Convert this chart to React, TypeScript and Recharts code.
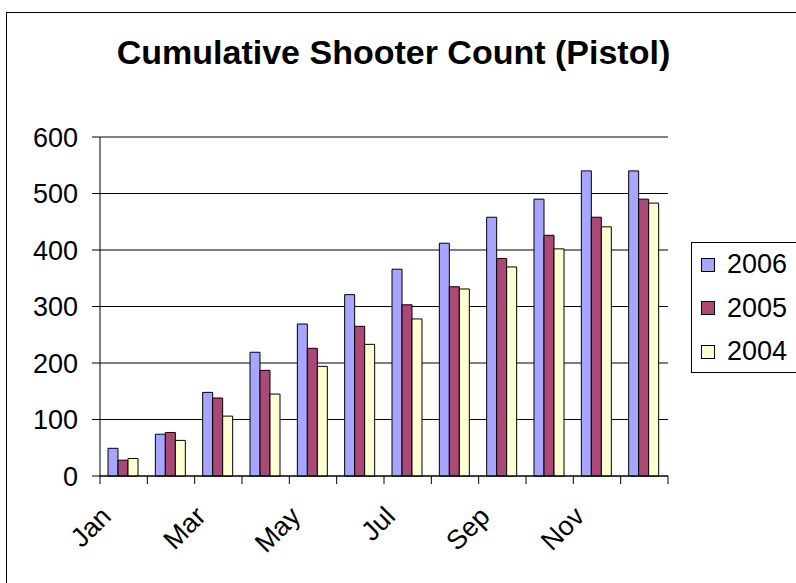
import { BarChart, Bar, XAxis, YAxis, CartesianGrid, Legend, ReferenceLine } from 'recharts';

const months = ['Jan', 'Feb', 'Mar', 'Apr', 'May', 'Jun', 'Jul', 'Aug', 'Sep', 'Oct', 'Nov', 'Dec'];
const seriesNames = ['2006', '2005', '2004'];
const count2006 = [49, 74, 148, 219, 269, 321, 366, 412, 458, 490, 540, 540];
const count2005 = [28, 77, 138, 187, 226, 265, 303, 335, 385, 426, 458, 490];
const count2004 = [31, 63, 106, 145, 194, 233, 278, 331, 370, 402, 441, 483];
const yTicks = [0, 100, 200, 300, 400, 500, 600];

const data = months.map((month, i) => ({
  month,
  '2006': count2006[i],
  '2005': count2005[i],
  '2004': count2004[i],
}));

const FONT = '"Liberation Sans", Arial, sans-serif';
const colors: Record<string, string> = { '2006': '#A6A6FF', '2005': '#AA4876', '2004': '#FFFFD2' };

// month tick: label on every other month, tick marks on the category boundaries
const MonthTick = (props: any) => {
  const { x, y, payload, index, width, visibleTicksCount } = props;
  const band = width / visibleTicksCount;
  const ax = x - 11;
  const ay = y + 42;
  return (
    <g>
      <line x1={x - band / 2} x2={x - band / 2} y1={y} y2={y + 8} stroke="#000" />
      {index === visibleTicksCount - 1 && (
        <line x1={x + band / 2} x2={x + band / 2} y1={y} y2={y + 8} stroke="#000" />
      )}
      {index % 2 === 0 && (
        <text
          x={ax}
          y={ay}
          transform={`rotate(-45 ${ax} ${ay})`}
          textAnchor="end"
          fontFamily={FONT}
          fontSize={27}
          fill="#000"
        >
          {payload.value}
        </text>
      )}
    </g>
  );
};

const LegendBox = ({ payload }: any) => {
  const items = [...(payload || [])].sort(
    (a: any, b: any) => seriesNames.indexOf(a.value) - seriesNames.indexOf(b.value)
  );
  return (
    <div
      style={{
        border: '1px solid #000',
        width: 120,
        height: 131,
        boxSizing: 'border-box',
        paddingTop: 0,
        fontFamily: FONT,
        fontSize: 27,
      }}
    >
      {items.map((entry: any) => (
        <div key={entry.value} style={{ display: 'flex', alignItems: 'center', height: 43.5, paddingLeft: 9 }}>
          <span
            style={{
              display: 'inline-block',
              width: 14,
              height: 14,
              background: entry.color,
              border: '1px solid #000',
              boxSizing: 'border-box',
              marginRight: 12,
            }}
          />
          <span>{entry.value}</span>
        </div>
      ))}
    </div>
  );
};

export default function App() {
  return (
    <div style={{ position: 'absolute', left: 0, top: 0, width: 796, height: 583, overflow: 'hidden', background: '#fff' }}>
      <div
        style={{
          position: 'absolute',
          left: 6,
          top: 12,
          width: 900,
          height: 900,
          borderLeft: '1px solid #000',
          borderTop: '1px solid #000',
        }}
      />
      <div
        style={{
          position: 'absolute',
          left: 0,
          top: 33,
          width: 787,
          textAlign: 'center',
          fontFamily: FONT,
          fontWeight: 'bold',
          fontSize: 34,
          lineHeight: '38px',
        }}
      >
        Cumulative Shooter Count (Pistol)
      </div>
      <BarChart
        width={796}
        height={583}
        data={data}
        margin={{ top: 137, right: 128, bottom: 0, left: 0 }}
        barCategoryGap={8}
        barGap={0}
        style={{ position: 'absolute', left: 0, top: 0 }}
      >
        <CartesianGrid vertical={false} stroke="#000" />
        <XAxis
          dataKey="month"
          height={107}
          interval={0}
          tickLine={false}
          tickSize={0}
          tickMargin={0}
          axisLine={{ stroke: '#000' }}
          tick={<MonthTick />}
        />
        <YAxis
          width={100}
          domain={[0, 600]}
          ticks={yTicks}
          tickSize={8}
          tickMargin={14}
          tickLine={{ stroke: '#000' }}
          axisLine={{ stroke: '#000' }}
          tick={{ fontFamily: FONT, fontSize: 27, fill: '#000' }}
        />
        <YAxis yAxisId="frame" orientation="right" width={0} tick={false} tickLine={false} axisLine={{ stroke: '#888' }} />
        <ReferenceLine y={600} stroke="#888" />
        {seriesNames.map((name) => (
          <Bar key={name} dataKey={name} fill={colors[name]} stroke="#000" isAnimationActive={false} />
        ))}
        <Legend
          layout="vertical"
          align="center"
          verticalAlign="middle"
          wrapperStyle={{ left: 691, top: 242, width: 120 }}
          content={<LegendBox />}
        />
      </BarChart>
    </div>
  );
}
